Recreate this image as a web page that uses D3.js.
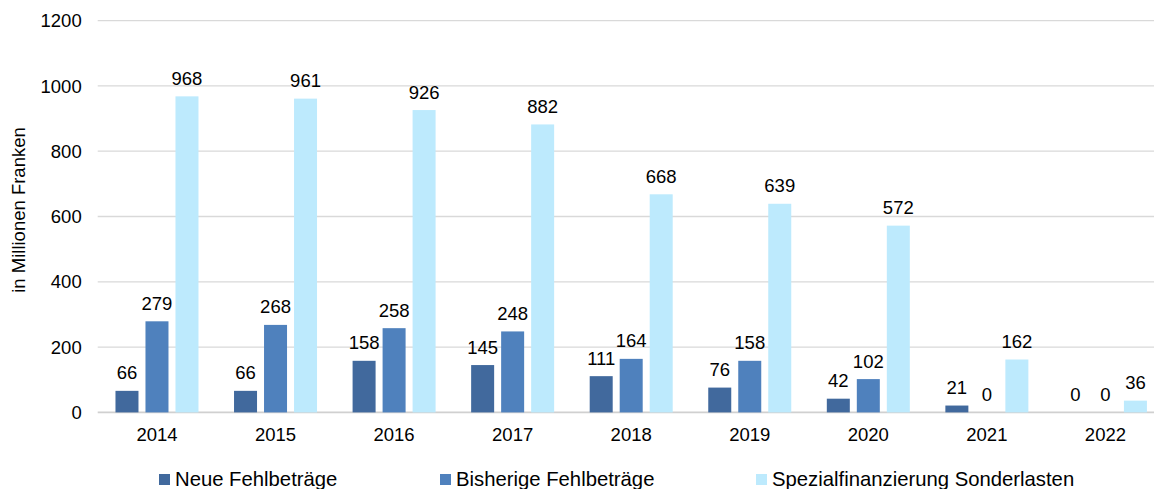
<!DOCTYPE html>
<html>
<head>
<meta charset="utf-8">
<script src="https://cdn.jsdelivr.net/npm/d3@7"></script>
<style>
  html, body { margin: 0; padding: 0; background: #fff; }
  svg { display: block; font-family: "Liberation Sans", Arial, sans-serif; }
</style>
</head>
<body>
<svg id="chart" width="1154" height="489"></svg>
<script>
const categories = ["2014","2015","2016","2017","2018","2019","2020","2021","2022"];
const seriesNames = ["Neue Fehlbeträge","Bisherige Fehlbeträge","Spezialfinanzierung Sonderlasten"];
const neueFehlbetraege = [66, 66, 158, 145, 111, 76, 42, 21, 0];
const bisherigeFehlbetraege = [279, 268, 258, 248, 164, 158, 102, 0, 0];
const spezialfinanzierung = [968, 961, 926, 882, 668, 639, 572, 162, 36];
const yTicks = [0, 200, 400, 600, 800, 1000, 1200];
const colors = ["#41699d", "#4f81bd", "#bdeafd"];
const yTitle = "in Millionen Franken";

const seriesValues = [neueFehlbetraege, bisherigeFehlbetraege, spezialfinanzierung];

const svg = d3.select("#chart");
const x0 = d3.scaleBand().domain(categories).range([97.7, 1164.7]).padding(0);
const bw = x0.bandwidth();
const groupW = 83;
const x1 = d3.scaleBand().domain(seriesNames)
  .range([(bw - groupW) / 2, (bw + groupW) / 2])
  .paddingInner(7 / 30).paddingOuter(0);
const y = d3.scaleLinear().domain([0, 1200]).range([412.4, 20.6]);

// gridlines
svg.append("g").selectAll("line").data(yTicks).join("line")
  .attr("x1", 97.7).attr("x2", 1164.7)
  .attr("y1", d => y(d)).attr("y2", d => y(d))
  .attr("stroke", d => d === 0 ? "#d0d0d0" : "#d9d9d9")
  .attr("stroke-width", d => d === 0 ? 1.6 : 1.3);

// y tick labels
svg.append("g").selectAll("text").data(yTicks).join("text")
  .attr("x", 81.7).attr("y", d => y(d) + 6.6)
  .attr("text-anchor", "end")
  .attr("font-size", "18.5px").attr("fill", "#000")
  .text(d => d);

// x labels
svg.append("g").selectAll("text").data(categories).join("text")
  .attr("x", d => x0(d) + bw / 2).attr("y", 441)
  .attr("text-anchor", "middle")
  .attr("font-size", "18.5px").attr("fill", "#000")
  .text(d => d);

// bars
const data = [];
categories.forEach((c, i) => {
  seriesNames.forEach((s, j) => {
    data.push({ cat: c, series: s, idx: j, value: seriesValues[j][i] });
  });
});

svg.append("g").selectAll("rect").data(data).join("rect")
  .attr("x", d => x0(d.cat) + x1(d.series))
  .attr("width", x1.bandwidth())
  .attr("y", d => y(d.value))
  .attr("height", d => y(0) - y(d.value))
  .attr("fill", d => colors[d.idx]);

// data labels
svg.append("g").selectAll("text").data(data).join("text")
  .attr("x", d => x0(d.cat) + x1(d.series) + x1.bandwidth() / 2)
  .attr("y", d => y(d.value) - 11.5)
  .attr("text-anchor", "middle")
  .attr("font-size", "18.5px").attr("fill", "#000")
  .text(d => d.value);

// y axis title
svg.append("text")
  .attr("transform", "translate(25,210) rotate(-90)")
  .attr("text-anchor", "middle")
  .attr("font-size", "18.5px").attr("fill", "#000")
  .text(yTitle);

// legend
const legendX = [159, 440, 756];
const lg = svg.append("g").selectAll("g").data(seriesNames).join("g")
  .attr("transform", (d, i) => `translate(${legendX[i]},0)`);
lg.append("rect").attr("x", 0).attr("y", 474).attr("width", 11).attr("height", 11)
  .attr("fill", (d, i) => colors[i]);
lg.append("text").attr("x", 16).attr("y", 485.5)
  .attr("font-size", "20.3px").attr("fill", "#000")
  .text(d => d);
</script>
</body>
</html>
